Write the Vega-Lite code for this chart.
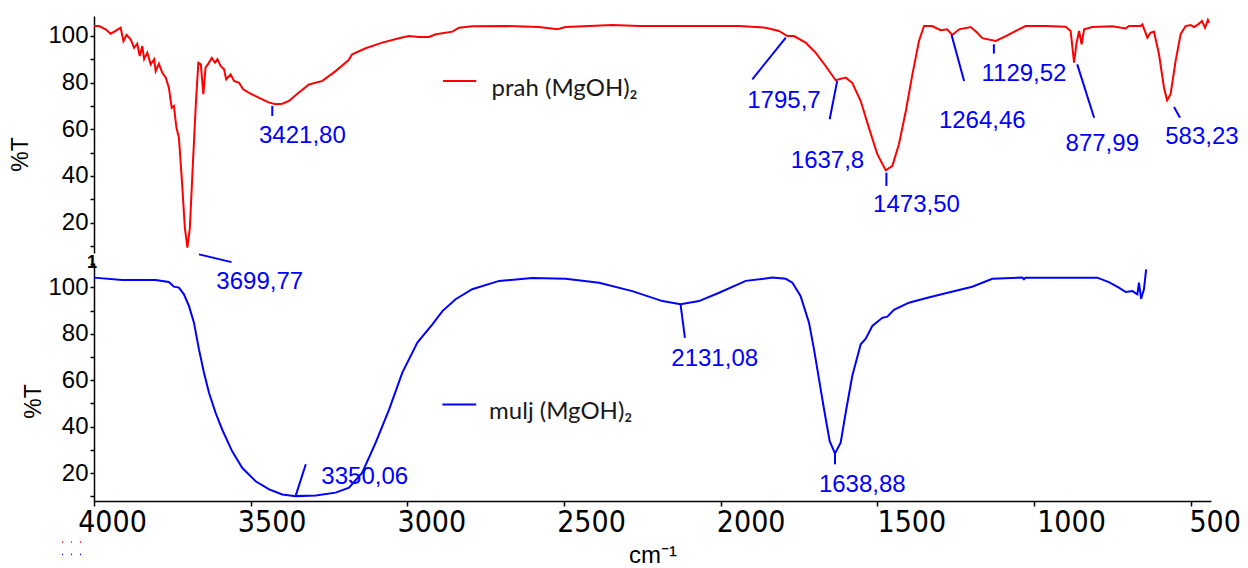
{
  "$schema": "https://vega.github.io/schema/vega-lite/v6.json",
  "padding": {"left": 9, "top": 15, "right": 5, "bottom": 0},
  "bounds": "flush",
  "spacing": 10,
  "config": {
    "view": {"stroke": null},
    "axis": {"domainColor": "#000", "domainWidth": 1.5, "tickColor": "#000", "tickWidth": 1.5, "grid": false, "labelColor": "#000", "titleColor": "#000", "titleFontWeight": "normal"}
  },
  "datasets": {
    "prah": [
      {"wn":4000,"t":104.2},{"wn":3984,"t":104.2},{"wn":3963,"t":102.8},{"wn":3947,"t":100.9},{"wn":3931,"t":102.1},{"wn":3915,"t":103.5},{"wn":3906,"t":97.8},{"wn":3896,"t":100.4},{"wn":3883,"t":98.5},{"wn":3872,"t":94.9},{"wn":3862,"t":96.6},{"wn":3854,"t":91.4},{"wn":3846,"t":95.6},{"wn":3840,"t":90.0},{"wn":3830,"t":92.8},{"wn":3819,"t":87.8},{"wn":3808,"t":90.0},{"wn":3803,"t":84.9},{"wn":3793,"t":88.1},{"wn":3782,"t":84.2},{"wn":3771,"t":82.1},{"wn":3761,"t":77.8},{"wn":3752,"t":69.2},{"wn":3745,"t":70.0},{"wn":3737,"t":60.7},{"wn":3729,"t":56.4},{"wn":3720,"t":39.2},{"wn":3710,"t":17.8},{"wn":3702,"t":9.3},{"wn":3694,"t":17.8},{"wn":3684,"t":46.4},{"wn":3675,"t":70.7},{"wn":3667,"t":88.5},{"wn":3659,"t":87.8},{"wn":3651,"t":75.0},{"wn":3644,"t":86.4},{"wn":3635,"t":88.1},{"wn":3624,"t":90.6},{"wn":3614,"t":88.5},{"wn":3606,"t":90.0},{"wn":3596,"t":87.1},{"wn":3585,"t":85.7},{"wn":3578,"t":81.4},{"wn":3564,"t":83.5},{"wn":3553,"t":80.7},{"wn":3537,"t":79.9},{"wn":3524,"t":77.1},{"wn":3505,"t":75.6},{"wn":3484,"t":74.2},{"wn":3463,"t":72.8},{"wn":3441,"t":71.4},{"wn":3420,"t":70.7},{"wn":3399,"t":70.9},{"wn":3378,"t":72.1},{"wn":3351,"t":75.2},{"wn":3314,"t":79.2},{"wn":3271,"t":80.7},{"wn":3229,"t":84.9},{"wn":3188,"t":89.5},{"wn":3176,"t":92.1},{"wn":3133,"t":94.7},{"wn":3080,"t":97.1},{"wn":3027,"t":99.0},{"wn":2995,"t":99.9},{"wn":2963,"t":99.5},{"wn":2931,"t":99.5},{"wn":2909,"t":100.7},{"wn":2856,"t":101.8},{"wn":2835,"t":103.5},{"wn":2793,"t":104.1},{"wn":2686,"t":104.2},{"wn":2580,"t":103.8},{"wn":2521,"t":102.8},{"wn":2495,"t":103.8},{"wn":2420,"t":104.2},{"wn":2346,"t":104.6},{"wn":2261,"t":104.2},{"wn":2154,"t":104.2},{"wn":2048,"t":104.2},{"wn":1941,"t":104.2},{"wn":1856,"t":103.5},{"wn":1814,"t":102.1},{"wn":1787,"t":99.9},{"wn":1766,"t":99.9},{"wn":1729,"t":97.1},{"wn":1697,"t":92.8},{"wn":1665,"t":87.1},{"wn":1633,"t":81.0},{"wn":1601,"t":82.1},{"wn":1580,"t":79.9},{"wn":1553,"t":72.1},{"wn":1527,"t":60.7},{"wn":1500,"t":49.3},{"wn":1473,"t":42.4},{"wn":1452,"t":44.3},{"wn":1431,"t":53.6},{"wn":1409,"t":67.8},{"wn":1388,"t":83.5},{"wn":1367,"t":97.8},{"wn":1351,"t":104.2},{"wn":1325,"t":104.2},{"wn":1298,"t":102.4},{"wn":1277,"t":102.8},{"wn":1261,"t":100.4},{"wn":1239,"t":102.8},{"wn":1202,"t":103.8},{"wn":1181,"t":101.3},{"wn":1165,"t":99.0},{"wn":1122,"t":97.8},{"wn":1090,"t":99.9},{"wn":1058,"t":102.1},{"wn":1027,"t":104.2},{"wn":963,"t":104.2},{"wn":899,"t":103.9},{"wn":883,"t":102.1},{"wn":872,"t":88.5},{"wn":864,"t":97.1},{"wn":856,"t":102.1},{"wn":848,"t":96.4},{"wn":840,"t":102.8},{"wn":814,"t":103.8},{"wn":750,"t":104.1},{"wn":707,"t":103.2},{"wn":697,"t":104.2},{"wn":660,"t":104.2},{"wn":654,"t":104.9},{"wn":638,"t":99.2},{"wn":628,"t":101.3},{"wn":617,"t":101.8},{"wn":601,"t":92.1},{"wn":585,"t":77.8},{"wn":575,"t":72.4},{"wn":564,"t":75.0},{"wn":548,"t":89.2},{"wn":532,"t":100.7},{"wn":516,"t":104.2},{"wn":500,"t":104.6},{"wn":489,"t":103.8},{"wn":473,"t":105.2},{"wn":464,"t":106.4},{"wn":454,"t":103.4},{"wn":445,"t":106.8},{"wn":441,"t":105.6}
    ],
    "mulj": [
      {"wn":4000,"t":104.2},{"wn":3910,"t":103.2},{"wn":3803,"t":103.2},{"wn":3761,"t":102.3},{"wn":3745,"t":100.3},{"wn":3729,"t":99.9},{"wn":3713,"t":97.0},{"wn":3697,"t":92.0},{"wn":3681,"t":84.8},{"wn":3665,"t":73.3},{"wn":3649,"t":63.2},{"wn":3633,"t":54.6},{"wn":3612,"t":46.0},{"wn":3591,"t":38.8},{"wn":3559,"t":29.4},{"wn":3527,"t":22.3},{"wn":3484,"t":16.5},{"wn":3441,"t":13.0},{"wn":3399,"t":10.8},{"wn":3356,"t":10.1},{"wn":3292,"t":10.4},{"wn":3229,"t":11.6},{"wn":3186,"t":13.7},{"wn":3144,"t":20.2},{"wn":3101,"t":33.1},{"wn":3058,"t":47.5},{"wn":3016,"t":63.3},{"wn":2984,"t":71.9},{"wn":2968,"t":76.2},{"wn":2920,"t":84.1},{"wn":2888,"t":89.8},{"wn":2846,"t":94.9},{"wn":2793,"t":99.2},{"wn":2707,"t":102.8},{"wn":2601,"t":104.0},{"wn":2495,"t":103.7},{"wn":2388,"t":102.0},{"wn":2282,"t":98.4},{"wn":2186,"t":94.1},{"wn":2128,"t":92.7},{"wn":2069,"t":94.1},{"wn":2005,"t":97.7},{"wn":1920,"t":102.8},{"wn":1835,"t":104.2},{"wn":1792,"t":103.7},{"wn":1771,"t":102.0},{"wn":1745,"t":96.3},{"wn":1718,"t":84.8},{"wn":1702,"t":73.3},{"wn":1686,"t":60.4},{"wn":1670,"t":47.5},{"wn":1652,"t":33.8},{"wn":1635,"t":28.5},{"wn":1617,"t":33.1},{"wn":1599,"t":47.5},{"wn":1580,"t":61.8},{"wn":1553,"t":75.5},{"wn":1537,"t":77.9},{"wn":1516,"t":83.4},{"wn":1484,"t":86.9},{"wn":1468,"t":87.4},{"wn":1447,"t":90.3},{"wn":1399,"t":93.4},{"wn":1346,"t":95.3},{"wn":1282,"t":97.5},{"wn":1197,"t":100.3},{"wn":1133,"t":103.7},{"wn":1037,"t":104.2},{"wn":1032,"t":103.5},{"wn":1027,"t":104.2},{"wn":920,"t":104.2},{"wn":798,"t":104.2},{"wn":761,"t":102.3},{"wn":729,"t":99.9},{"wn":707,"t":98.0},{"wn":686,"t":98.4},{"wn":670,"t":97.0},{"wn":665,"t":102.0},{"wn":658,"t":95.1},{"wn":649,"t":99.2},{"wn":642,"t":107.8}
    ],
    "ruleTop": [
      {"wn":3431,"t":70.0,"wn2":3431,"t2":65.7},
      {"wn":3665,"t":6.4,"wn2":3561,"t2":3.1},
      {"wn":1792,"t":99.2,"wn2":1899,"t2":81.4},
      {"wn":1628,"t":80.7,"wn2":1652,"t2":64.3},
      {"wn":1471,"t":41.4,"wn2":1471,"t2":35.7},
      {"wn":1263,"t":100.4,"wn2":1223,"t2":80.7},
      {"wn":1128,"t":96.4,"wn2":1128,"t2":92.4},
      {"wn":862,"t":87.8,"wn2":808,"t2":64.9},
      {"wn":553,"t":69.5,"wn2":534,"t2":64.9}
    ],
    "labelTop": [
      {"wn":3335,"t":54.2,"label":"3421,80"},
      {"wn":3471,"t":-8.6,"label":"3699,77"},
      {"wn":1798,"t":69.2,"label":"1795,7"},
      {"wn":1659,"t":43.3,"label":"1637,8"},
      {"wn":1375,"t":24.5,"label":"1473,50"},
      {"wn":1165,"t":60.7,"label":"1264,46"},
      {"wn":1032,"t":80.7,"label":"1129,52"},
      {"wn":782,"t":50.7,"label":"877,99"},
      {"wn":464,"t":53.5,"label":"583,23"}
    ],
    "ruleBot": [
      {"wn":3356,"t":10.4,"wn2":3324,"t2":23.8},
      {"wn":2128,"t":92.7,"wn2":2114,"t2":78.3},
      {"wn":1635,"t":28.5,"wn2":1635,"t2":23.8}
    ],
    "labelBot": [
      {"wn":3136,"t":15.2,"label":"3350,06"},
      {"wn":2019,"t":66.1,"label":"2131,08"},
      {"wn":1548,"t":11.9,"label":"1638,88"}
    ],
    "legTopLine": [{"wn":2886,"wn2":2780,"t":80.7}],
    "legTopText": [{"wn":2731,"t":74.2,"label":"prah (MgOH)₂"}],
    "legBotLine": [{"wn":2888,"wn2":2780,"t":49.6}],
    "legBotText": [{"wn":2739,"t":43.2,"label":"mulj (MgOH)₂"}],
    "dots": [
      {"wn":4102,"wn2":4016,"t":-9.7,"s":"prah"},
      {"wn":4102,"wn2":4016,"t":-15.0,"s":"mulj"}
    ],
    "one": [{"wn":4006,"t":110.3,"label":"1"}]
  },
  "vconcat": [
    {
      "width": 1117,
      "height": 237,
      "encoding": {
        "x": {"field": "wn", "type": "quantitative", "scale": {"domain": [435, 4000], "reverse": true, "nice": false, "zero": false}, "axis": null},
        "y": {"field": "t", "type": "quantitative", "scale": {"domain": [7, 108.5], "nice": false, "zero": false},
          "axis": {"values": [10,20,30,40,50,60,70,80,90,100], "format": "d", "labelExpr": "datum.value % 20 === 0 ? datum.label : ''",
            "labelFont": "Liberation Sans", "labelFontSize": 24, "labelPadding": 2, "tickSize": 4,
            "title": "%T", "titleFont": "Liberation Sans", "titleFontSize": 23, "titleAngle": 270, "titleBaseline": "middle", "titleAlign": "center", "titleX": -74, "titleY": 138}}
      },
      "layer": [
        {"data": {"name": "prah"}, "mark": {"type": "line", "color": "#ff0000", "strokeWidth": 2}, "encoding": {}},
        {"data": {"name": "ruleTop"}, "mark": {"type": "rule", "color": "#0000ff", "strokeWidth": 2}, "encoding": {"x2": {"field": "wn2"}, "y2": {"field": "t2"}}},
        {"data": {"name": "labelTop"}, "mark": {"type": "text", "color": "#0000ff", "font": "Liberation Sans", "fontSize": 24, "align": "center", "baseline": "alphabetic"}, "encoding": {"text": {"field": "label"}}},
        {"data": {"name": "legTopLine"}, "mark": {"type": "rule", "color": "#ff0000", "strokeWidth": 2}, "encoding": {"x2": {"field": "wn2"}}},
        {"data": {"name": "legTopText"}, "mark": {"type": "text", "color": "#1a1a1a", "font": "Lato", "fontSize": 24, "align": "left", "baseline": "alphabetic"}, "encoding": {"text": {"field": "label"}}}
      ]
    },
    {
      "width": 1117,
      "height": 238,
      "encoding": {
        "x": {"field": "wn", "type": "quantitative", "scale": {"domain": [435, 4000], "reverse": true, "nice": false, "zero": false},
          "axis": {"values": [500,1000,1500,2000,2500,3000,3500,4000], "format": "d", "labelFont": "Liberation Sans Narrow, DejaVu Sans Condensed, Liberation Sans", "labelFontSize": 30, "labelFlush": false, "labelPadding": 1, "tickSize": 5,
            "labelOffset": {"condition": [
              {"test": "datum.value === 500", "value": 24},
              {"test": "datum.value === 1000", "value": 37},
              {"test": "datum.value === 1500", "value": 34},
              {"test": "datum.value === 2000", "value": 30},
              {"test": "datum.value === 2500", "value": 27},
              {"test": "datum.value === 3000", "value": 24},
              {"test": "datum.value === 3500", "value": 21}
            ], "value": 18},
            "title": "cm⁻¹", "titleFont": "Liberation Sans", "titleFontSize": 24, "titlePadding": 6}},
        "y": {"field": "t", "type": "quantitative", "scale": {"domain": [8, 110.5], "nice": false, "zero": false},
          "axis": {"values": [10,20,30,40,50,60,70,80,90,100,110], "format": "d", "labelExpr": "datum.value % 20 === 0 && datum.value <= 100 ? datum.label : ''",
            "labelFont": "Liberation Sans", "labelFontSize": 24, "labelPadding": 2, "tickSize": 4,
            "title": "%T", "titleFont": "Liberation Sans", "titleFontSize": 23, "titleAngle": 270, "titleBaseline": "middle", "titleAlign": "center", "titleX": -61, "titleY": 138}}
      },
      "layer": [
        {"data": {"name": "mulj"}, "mark": {"type": "line", "color": "#0000ff", "strokeWidth": 2}, "encoding": {}},
        {"data": {"name": "ruleBot"}, "mark": {"type": "rule", "color": "#0000ff", "strokeWidth": 2}, "encoding": {"x2": {"field": "wn2"}, "y2": {"field": "t2"}}},
        {"data": {"name": "labelBot"}, "mark": {"type": "text", "color": "#0000ff", "font": "Liberation Sans", "fontSize": 24, "align": "center", "baseline": "alphabetic"}, "encoding": {"text": {"field": "label"}}},
        {"data": {"name": "legBotLine"}, "mark": {"type": "rule", "color": "#0000ff", "strokeWidth": 2}, "encoding": {"x2": {"field": "wn2"}}},
        {"data": {"name": "legBotText"}, "mark": {"type": "text", "color": "#1a1a1a", "font": "Lato", "fontSize": 24, "align": "left", "baseline": "alphabetic"}, "encoding": {"text": {"field": "label"}}},
        {"data": {"name": "dots"}, "mark": {"type": "rule", "strokeWidth": 1.5, "strokeDash": [1, 8]},
          "encoding": {"x2": {"field": "wn2"}, "color": {"field": "s", "type": "nominal", "scale": {"domain": ["prah", "mulj"], "range": ["#ff0000", "#0000ff"]}, "legend": null}}},
        {"data": {"name": "one"}, "mark": {"type": "text", "color": "#000", "font": "Liberation Sans", "fontSize": 18, "fontWeight": "bold", "align": "center", "baseline": "middle"}, "encoding": {"text": {"field": "label"}}}
      ]
    }
  ]
}
